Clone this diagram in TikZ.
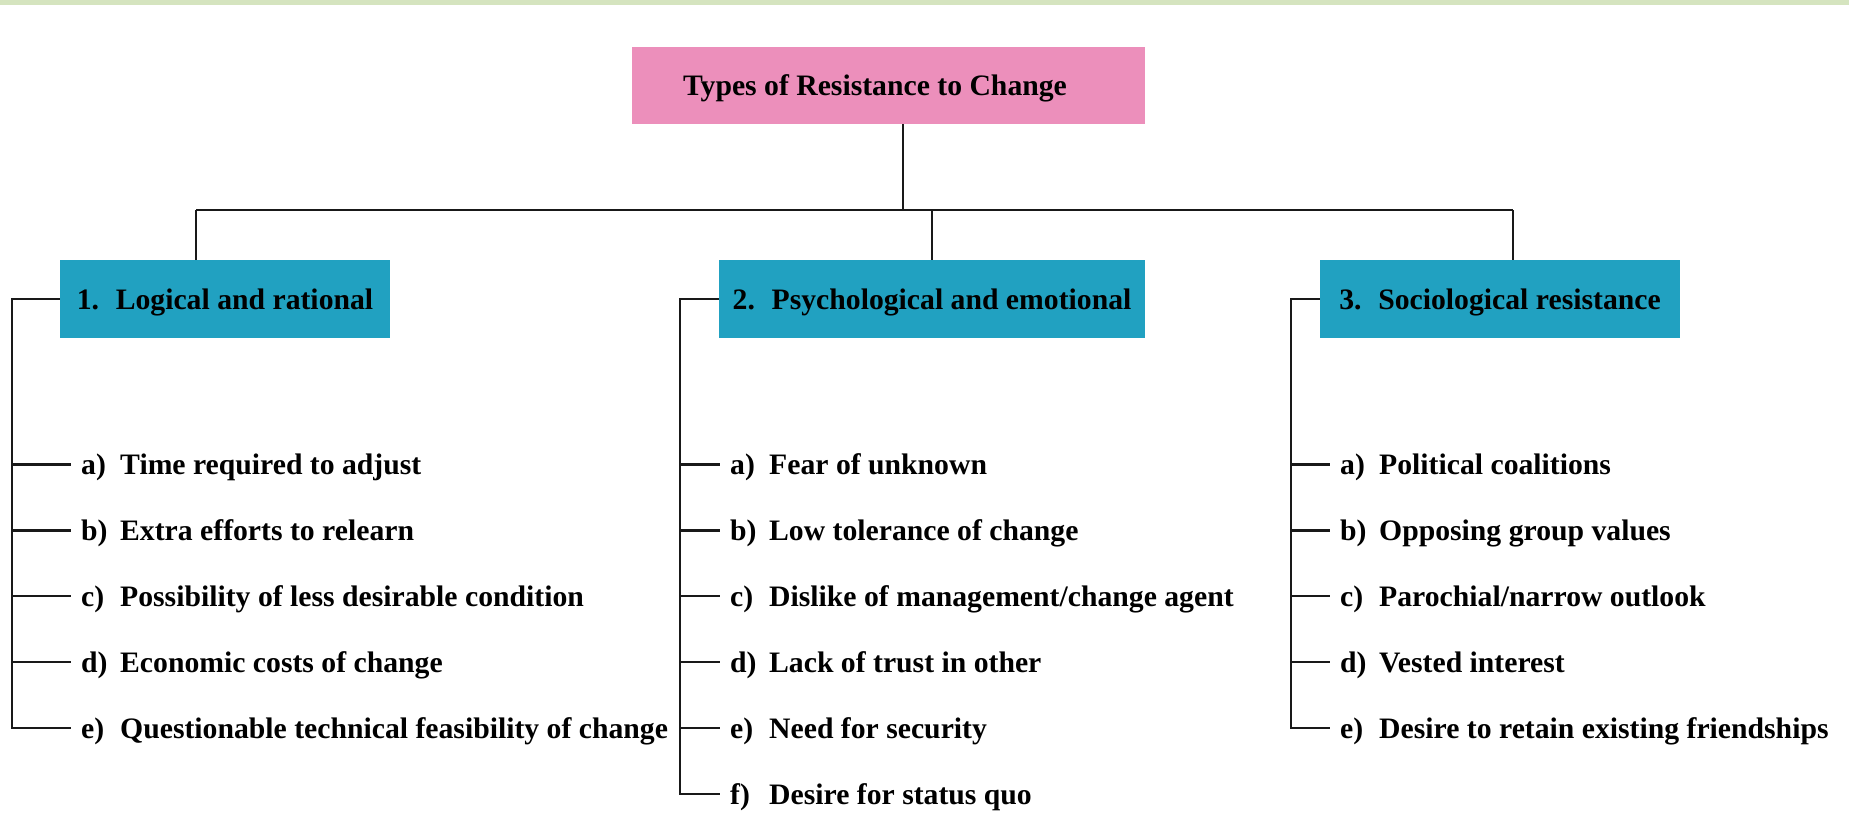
\documentclass[tikz,border=0pt]{standalone}
\usepackage{fontspec}
\setmainfont{Liberation Serif}
\definecolor{bandgreen}{HTML}{D5E4BF}
\definecolor{titlepink}{HTML}{EC8FBB}
\definecolor{boxteal}{HTML}{21A1C1}
\tikzset{
  txt/.style={font=\fontsize{29.7pt}{34pt}\selectfont\bfseries, text=black},
  titlebox/.style={txt, fill=titlepink, minimum width=513pt, minimum height=77pt, inner sep=0pt, text height=20pt, text depth=0pt},
  catbox/.style={txt, fill=boxteal, minimum height=78pt, inner sep=0pt, text height=20pt, text depth=0pt},
  item/.style={txt, anchor=west, inner xsep=10.5pt, inner ysep=0pt, text height=20pt, text depth=0pt},
  conn/.style={line width=2.2pt, draw=black!90},
}
\newcommand{\lbl}[1]{\makebox[39pt][l]{#1}}
\begin{document}
\begin{tikzpicture}[x=1pt, y=-1pt]
\useasboundingbox (0,0) rectangle (1849,819);
\fill[bandgreen] (0,0) rectangle (1849,5);

% main boxes
\node[titlebox] (title) at (888.5,85.5) {Types of Resistance to Change\hspace*{27pt}};
\node[catbox, minimum width=330pt] (c1) at (225,299) {\lbl{1.}Logical and rational};
\node[catbox, minimum width=426pt] (c2) at (932,299) {\lbl{2.}Psychological and emotional};
\node[catbox, minimum width=360pt] (c3) at (1500,299) {\lbl{3.}Sociological resistance};

% top connectors
\coordinate (hub) at (903,210);
\coordinate (j1) at (196,210);
\coordinate (j3) at (1513,210);
\draw[conn] (hub |- title.south) -- (hub);
\draw[conn] (j1) -- (j3);
\draw[conn] (j1) -- (j1 |- c1.north);
\draw[conn] (c2.north |- hub) -- (c2.north);
\draw[conn] (j3) -- (j3 |- c3.north);

% column 1 items
\node[item] (i1a) at (70.5,464.5) {\lbl{a)}Time required to adjust};
\node[item] (i1b) at (70.5,530.4) {\lbl{b)}Extra efforts to relearn};
\node[item] (i1c) at (70.5,596.3) {\lbl{c)}Possibility of less desirable condition};
\node[item] (i1d) at (70.5,662.2) {\lbl{d)}Economic costs of change};
\node[item] (i1e) at (70.5,728.1) {\lbl{e)}Questionable technical feasibility of change};

% column 2 items
\node[item] (i2a) at (719.5,464.5) {\lbl{a)}Fear of unknown};
\node[item] (i2b) at (719.5,530.4) {\lbl{b)}Low tolerance of change};
\node[item] (i2c) at (719.5,596.3) {\lbl{c)}Dislike of management/change agent};
\node[item] (i2d) at (719.5,662.2) {\lbl{d)}Lack of trust in other};
\node[item] (i2e) at (719.5,728.1) {\lbl{e)}Need for security};
\node[item] (i2f) at (719.5,794.0) {\lbl{f)}Desire for status quo};

% column 3 items
\node[item] (i3a) at (1329.5,464.5) {\lbl{a)}Political coalitions};
\node[item] (i3b) at (1329.5,530.4) {\lbl{b)}Opposing group values};
\node[item] (i3c) at (1329.5,596.3) {\lbl{c)}Parochial/narrow outlook};
\node[item] (i3d) at (1329.5,662.2) {\lbl{d)}Vested interest};
\node[item] (i3e) at (1329.5,728.1) {\lbl{e)}Desire to retain existing friendships};

% column spines
\coordinate (s1) at (12,299);
\coordinate (s2) at (680,299);
\coordinate (s3) at (1291,299);

\draw[conn] (c1.west) -- (s1) |- (i1e.west);
\foreach \n in {a,b,c,d} \draw[conn] (s1 |- i1\n.west) -- (i1\n.west);

\draw[conn] (c2.west) -- (s2) |- (i2f.west);
\foreach \n in {a,b,c,d,e} \draw[conn] (s2 |- i2\n.west) -- (i2\n.west);

\draw[conn] (c3.west) -- (s3) |- (i3e.west);
\foreach \n in {a,b,c,d} \draw[conn] (s3 |- i3\n.west) -- (i3\n.west);
\end{tikzpicture}
\end{document}
